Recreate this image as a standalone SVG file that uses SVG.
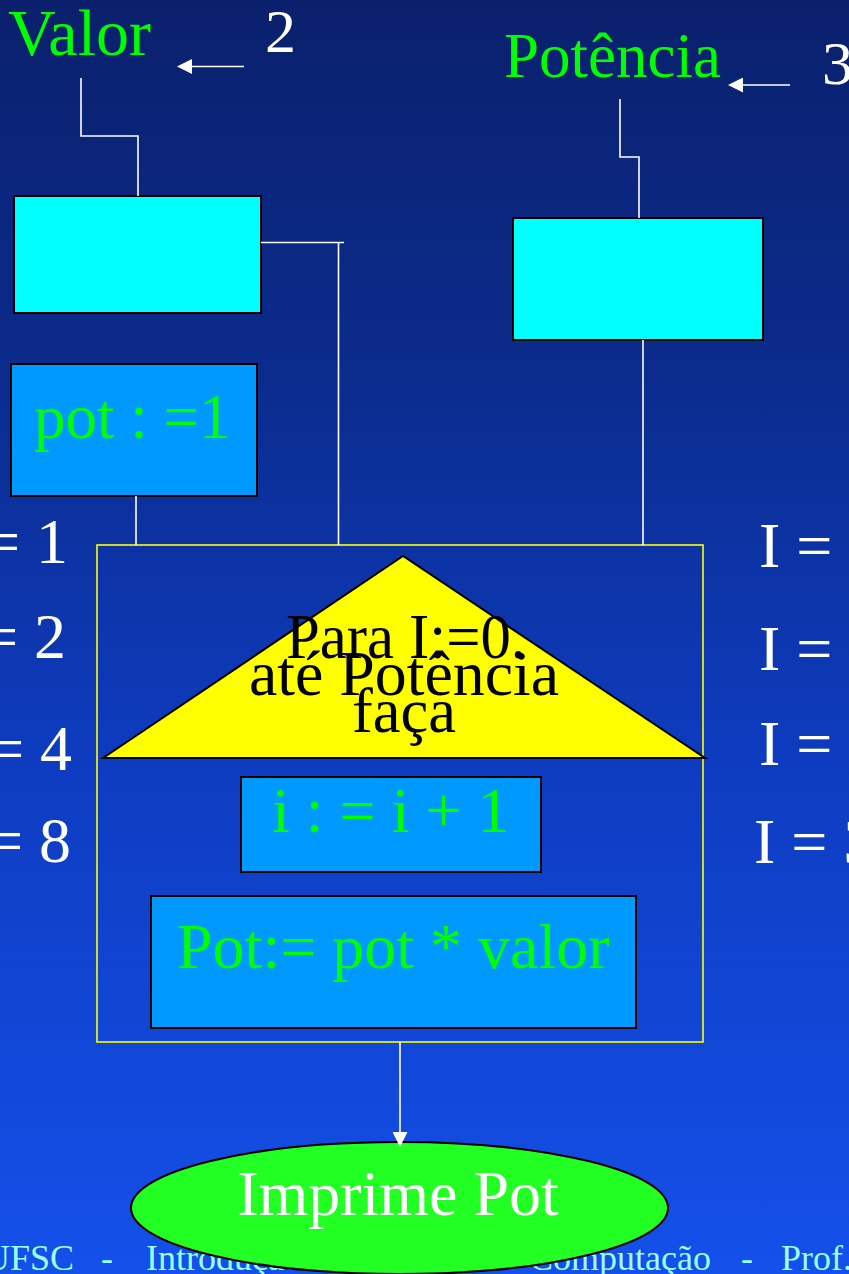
<svg xmlns="http://www.w3.org/2000/svg" width="849" height="1274" viewBox="0 0 849 1274">
  <defs>
    <linearGradient id="bg" x1="0" y1="0" x2="0" y2="1">
      <stop offset="0" stop-color="#0a206c"/>
      <stop offset="0.3" stop-color="#0b2c8e"/>
      <stop offset="0.6" stop-color="#0e3cc0"/>
      <stop offset="1" stop-color="#1450ea"/>
    </linearGradient>
    <marker id="arrow" viewBox="0 0 10 10" refX="0" refY="5" markerUnits="userSpaceOnUse" markerWidth="15" markerHeight="15" orient="auto">
      <path d="M0,0 L10,5 L0,10 z" fill="#ffffff"/>
    </marker>
    <style>
      text { font-family: "Liberation Serif", "Times New Roman", serif; }
      .big { font-size: 64px; }
      .green { fill: #00ff00; }
      .white { fill: #ffffff; }
      .black { fill: #000000; }
      .foot { font-size: 36px; fill: #99ffff; }
      .cyan { fill: #00ffff; stroke: #000000; stroke-width: 2; }
      .blue { fill: #0099ff; stroke: #000000; stroke-width: 2; }
      .wire { fill: none; stroke: #ffffff; stroke-width: 1.6; }
    </style>
  </defs>

  <!-- background -->
  <rect x="0" y="0" width="849" height="1274" fill="url(#bg)"/>

  <!-- footer line (partly behind the output ellipse) -->
  <g id="footer">
    <text class="foot" x="-16" y="1270">UFSC</text>
    <text class="foot" x="101" y="1270">-</text>
    <text class="foot" x="146" y="1270">Introdução</text>
    <text class="foot" x="529" y="1270">Computação</text>
    <text class="foot" x="741" y="1270">-</text>
    <text class="foot" x="781" y="1270">Prof.</text>
  </g>

  <!-- input labels -->
  <g id="label-valor">
    <text class="big green" x="8" y="55" style="font-size:66px">Valor</text>
    <text class="big white" x="265" y="52" style="font-size:62px">2</text>
  </g>
  <g id="label-potencia">
    <text class="big green" x="504" y="77" style="font-size:63px">Potência</text>
    <text class="big white" x="822" y="84" style="font-size:62px">3</text>
  </g>

  <!-- trace of pot values -->
  <g id="trace-pot">
    <text class="big white" x="-16" y="563">= 1</text>
    <text class="big white" x="-18" y="658">= 2</text>
    <text class="big white" x="-12" y="770">= 4</text>
    <text class="big white" x="-13" y="862">= 8</text>
  </g>

  <!-- trace of I values -->
  <g id="trace-i">
    <text class="big white" x="759" y="567">I =</text>
    <text class="big white" x="759" y="670">I =</text>
    <text class="big white" x="759" y="765">I =</text>
    <text class="big white" x="754" y="863">I = 3</text>
  </g>

  <!-- input box for Valor -->
  <g id="in-valor">
    <rect class="cyan" x="14" y="196" width="247" height="117"/>
  </g>

  <!-- input box for Potência -->
  <g id="in-potencia">
    <rect class="cyan" x="513" y="218" width="250" height="122"/>
  </g>

  <!-- initialisation -->
  <g id="init-pot">
    <rect class="blue" x="11" y="364" width="246" height="132"/>
    <text class="big green" x="34" y="438" style="font-size:63px">pot : =1</text>
  </g>

  <!-- loop frame -->
  <g id="loop">
    <rect x="97" y="545" width="606" height="497" fill="none" stroke="#ffff00" stroke-width="1.6"/>
    <polygon points="103,758 403,556 705,758" fill="#ffff00" stroke="#000000" stroke-width="2"/>
    <text class="big black">
      <tspan x="286" y="658" textLength="240" lengthAdjust="spacingAndGlyphs">Para I:=0.</tspan>
      <tspan x="249" y="695" textLength="310" lengthAdjust="spacingAndGlyphs">até Potência</tspan>
      <tspan x="352" y="732" textLength="104" lengthAdjust="spacingAndGlyphs">faça</tspan>
    </text>
  </g>

  <!-- loop body: counter -->
  <g id="step-i">
    <rect class="blue" x="241" y="777" width="300" height="95"/>
    <text class="big green" x="272" y="832">i : = i + 1</text>
  </g>

  <!-- loop body: product -->
  <g id="step-pot">
    <rect class="blue" x="151" y="896" width="485" height="132"/>
    <text class="big green" x="177" y="968">Pot:= pot * valor</text>
  </g>

  <!-- output -->
  <g id="out-pot">
    <ellipse cx="399.5" cy="1208" rx="268.5" ry="66" fill="#22ff22" stroke="#000000" stroke-width="2"/>
    <text class="big white" x="398" y="1215" text-anchor="middle">Imprime Pot</text>
  </g>

  <!-- connectors -->
  <g id="connectors">
    <line class="wire" x1="244" y1="66.5" x2="192" y2="66.5" marker-end="url(#arrow)"/>
    <line class="wire" x1="790" y1="85" x2="743" y2="85" marker-end="url(#arrow)"/>
    <polyline class="wire" points="81,78 81,136 138,136 138,196"/>
    <polyline class="wire" points="620,99 620,157 639,157 639,218"/>
    <polyline class="wire" points="261,242.5 344,242.5"/>
    <line class="wire" x1="338.5" y1="242.5" x2="338.5" y2="545"/>
    <line class="wire" x1="643" y1="340" x2="643" y2="545"/>
    <line class="wire" x1="136" y1="496" x2="136" y2="545"/>
    <line class="wire" x1="400" y1="1042" x2="400" y2="1132" marker-end="url(#arrow)"/>
  </g>
</svg>
